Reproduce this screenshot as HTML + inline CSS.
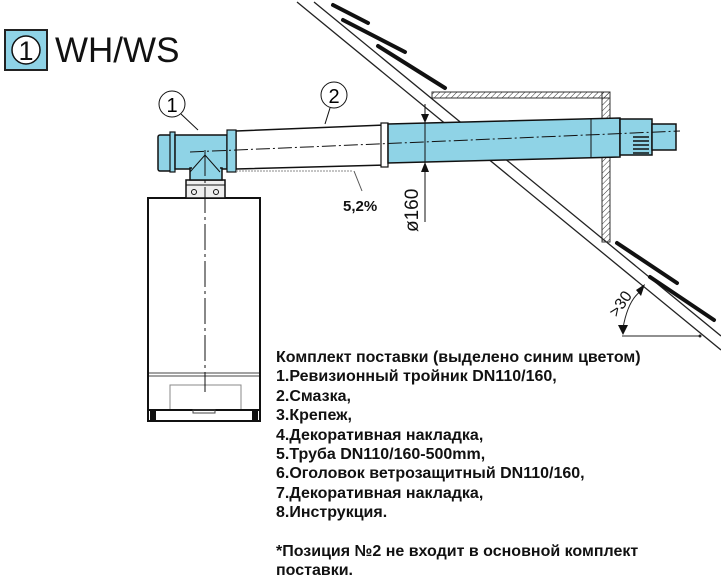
<!DOCTYPE html>
<html><head><meta charset="utf-8"><style>
html,body{margin:0;padding:0;background:#fff;}
body{width:721px;height:585px;position:relative;overflow:hidden;font-family:"Liberation Sans",Arial,sans-serif;}
.t{position:absolute;left:276px;font-weight:bold;font-size:16px;color:#111;white-space:nowrap;line-height:19.4px;}
</style></head><body>
<svg width="721" height="585" style="position:absolute;left:0;top:0" xmlns="http://www.w3.org/2000/svg">
<defs>
<pattern id="h" width="4" height="4" patternUnits="userSpaceOnUse" patternTransform="rotate(45)"><line x1="0" y1="0" x2="0" y2="4" stroke="#333" stroke-width="1"/></pattern>
</defs>
<rect x="5" y="30" width="42" height="40" fill="#8fd3e6" stroke="#222" stroke-width="2"/>
<circle cx="26" cy="50" r="14" fill="#fff" stroke="#111" stroke-width="1.5"/>
<text x="26" y="60" font-family="Liberation Sans" font-size="27" text-anchor="middle" fill="#111">1</text>
<text x="55" y="62" font-family="Liberation Sans" font-size="35" fill="#111">WH/WS</text>
<line x1="297" y1="2" x2="721" y2="350" stroke="#222" stroke-width="1.3"/>
<line x1="314" y1="2" x2="721" y2="336" stroke="#222" stroke-width="1.3"/>
<g stroke="#111" stroke-width="4" stroke-linecap="round">
<line x1="333" y1="5" x2="368" y2="23"/>
<line x1="343" y1="20" x2="405" y2="52"/>
<line x1="378" y1="46" x2="445" y2="88"/>
<line x1="617" y1="243" x2="677" y2="283"/>
<line x1="650" y1="277" x2="714" y2="320"/>
</g>
<rect x="432" y="92" width="178" height="6" fill="url(#h)" stroke="#333" stroke-width="1"/>
<rect x="602" y="92" width="8" height="150" fill="url(#h)" stroke="#333" stroke-width="1"/>
<line x1="432" y1="98" x2="602" y2="98" stroke="#333"/>
<line x1="622" y1="336" x2="700" y2="336" stroke="#222" stroke-width="1"/>
<circle cx="700" cy="336" r="1.5" fill="#222"/>
<path d="M623 328 Q628 300 641 291" fill="none" stroke="#222" stroke-width="1"/>
<polygon points="618,325 628,325 623,335" fill="#111"/>
<polygon points="636,290 645,284 641,296" fill="#111"/>
<text transform="translate(617,318) rotate(-55)" font-family="Liberation Sans" font-size="16" fill="#111">&gt;30</text>
<rect x="148" y="198" width="112" height="212" fill="#fff" stroke="#111" stroke-width="2"/>
<line x1="149" y1="373" x2="259" y2="373" stroke="#444"/>
<line x1="149" y1="376" x2="259" y2="376" stroke="#444"/>
<rect x="170" y="385" width="71" height="25" fill="none" stroke="#888"/>
<rect x="148" y="410" width="112" height="11" fill="#fff" stroke="#111" stroke-width="2"/>
<rect x="150" y="411" width="6" height="10" fill="#111"/>
<rect x="252" y="411" width="6" height="10" fill="#111"/>
<rect x="193" y="410" width="22" height="3" fill="none" stroke="#444"/>
<rect x="186" y="180" width="39" height="18" fill="#eee" stroke="#111" stroke-width="1.5"/>
<line x1="186" y1="185" x2="225" y2="185" stroke="#111"/>
<circle cx="194" cy="192" r="2.5" fill="none" stroke="#111"/>
<circle cx="216" cy="192" r="2.5" fill="none" stroke="#111"/>
<polygon points="236,131 385,125 385,165 236,169" fill="#fff" stroke="#111" stroke-width="1.5"/>
<rect x="381" y="123" width="7" height="44" fill="#fff" stroke="#111" stroke-width="1.2"/>
<polygon points="388,124 620,118 620,157 388,163" fill="#8fd3e6" stroke="#111" stroke-width="1.5"/>
<line x1="425" y1="123" x2="425" y2="162" stroke="#111"/>
<line x1="591" y1="119" x2="591" y2="157" stroke="#111"/>
<rect x="620" y="119" width="32" height="36" fill="#8fd3e6" stroke="#111" stroke-width="1.5"/>
<g stroke="#111" stroke-width="1.5"><line x1="633" y1="137" x2="649" y2="137"/><line x1="633" y1="141" x2="649" y2="141"/><line x1="633" y1="145" x2="649" y2="145"/><line x1="633" y1="149" x2="649" y2="149"/><line x1="633" y1="153" x2="649" y2="153"/></g>
<rect x="652" y="124" width="24" height="26" fill="#8fd3e6" stroke="#111" stroke-width="1.5"/>
<rect x="158" y="135" width="13" height="36" rx="2" fill="#8fd3e6" stroke="#111" stroke-width="1.5"/>
<rect x="170" y="132" width="5" height="40" fill="#8fd3e6" stroke="#111" stroke-width="1.2"/>
<rect x="175" y="135" width="52" height="34" fill="#8fd3e6" stroke="#111" stroke-width="1.5"/>
<rect x="227" y="130" width="9" height="42" fill="#8fd3e6" stroke="#111" stroke-width="1.2"/>
<rect x="190" y="168" width="32" height="12" fill="#8fd3e6" stroke="#111" stroke-width="1.5"/>
<line x1="192" y1="168" x2="220" y2="168" stroke="#8fd3e6" stroke-width="2"/>
<path d="M190 172 L205 155 L220 172" fill="none" stroke="#111"/>
<line x1="190" y1="152" x2="680" y2="131" stroke="#111" stroke-width="1" stroke-dasharray="14,3,2,3"/>
<line x1="205" y1="150" x2="205" y2="392" stroke="#111" stroke-width="1" stroke-dasharray="26,4,3,4"/>
<line x1="236" y1="171" x2="353" y2="171" stroke="#888" stroke-dasharray="2,1"/>
<line x1="354" y1="171" x2="362" y2="191" stroke="#555"/>
<text x="343" y="211" font-family="Liberation Sans" font-size="15" font-weight="bold" fill="#111">5,2%</text>
<circle cx="172" cy="104" r="13" fill="#fff" stroke="#111"/>
<text x="172" y="112" font-family="Liberation Sans" font-size="20" text-anchor="middle">1</text>
<line x1="181" y1="114" x2="198" y2="130" stroke="#111"/>
<circle cx="334" cy="95" r="13" fill="#fff" stroke="#111"/>
<text x="334" y="103" font-family="Liberation Sans" font-size="20" text-anchor="middle">2</text>
<line x1="330" y1="108" x2="325" y2="124" stroke="#111"/>
<line x1="425" y1="104" x2="425" y2="123" stroke="#111"/>
<polygon points="421,114 429,114 425,123" fill="#111"/>
<line x1="425" y1="162" x2="425" y2="222" stroke="#111"/>
<polygon points="421,172 429,172 425,162" fill="#111"/>
<text transform="translate(418,232) rotate(-90)" font-family="Liberation Sans" font-size="19" fill="#111">ø160</text>
</svg>
<div class="t" style="top:348px">Комплект поставки (выделено синим цветом)<br>1.Ревизионный тройник DN110/160,<br>2.Смазка,<br>3.Крепеж,<br>4.Декоративная накладка,<br>5.Труба DN110/160-500mm,<br>6.Оголовок ветрозащитный DN110/160,<br>7.Декоративная накладка,<br>8.Инструкция.</div>
<div class="t" style="top:542px">*Позиция №2 не входит в основной комплект<br>поставки.</div>
</body></html>
